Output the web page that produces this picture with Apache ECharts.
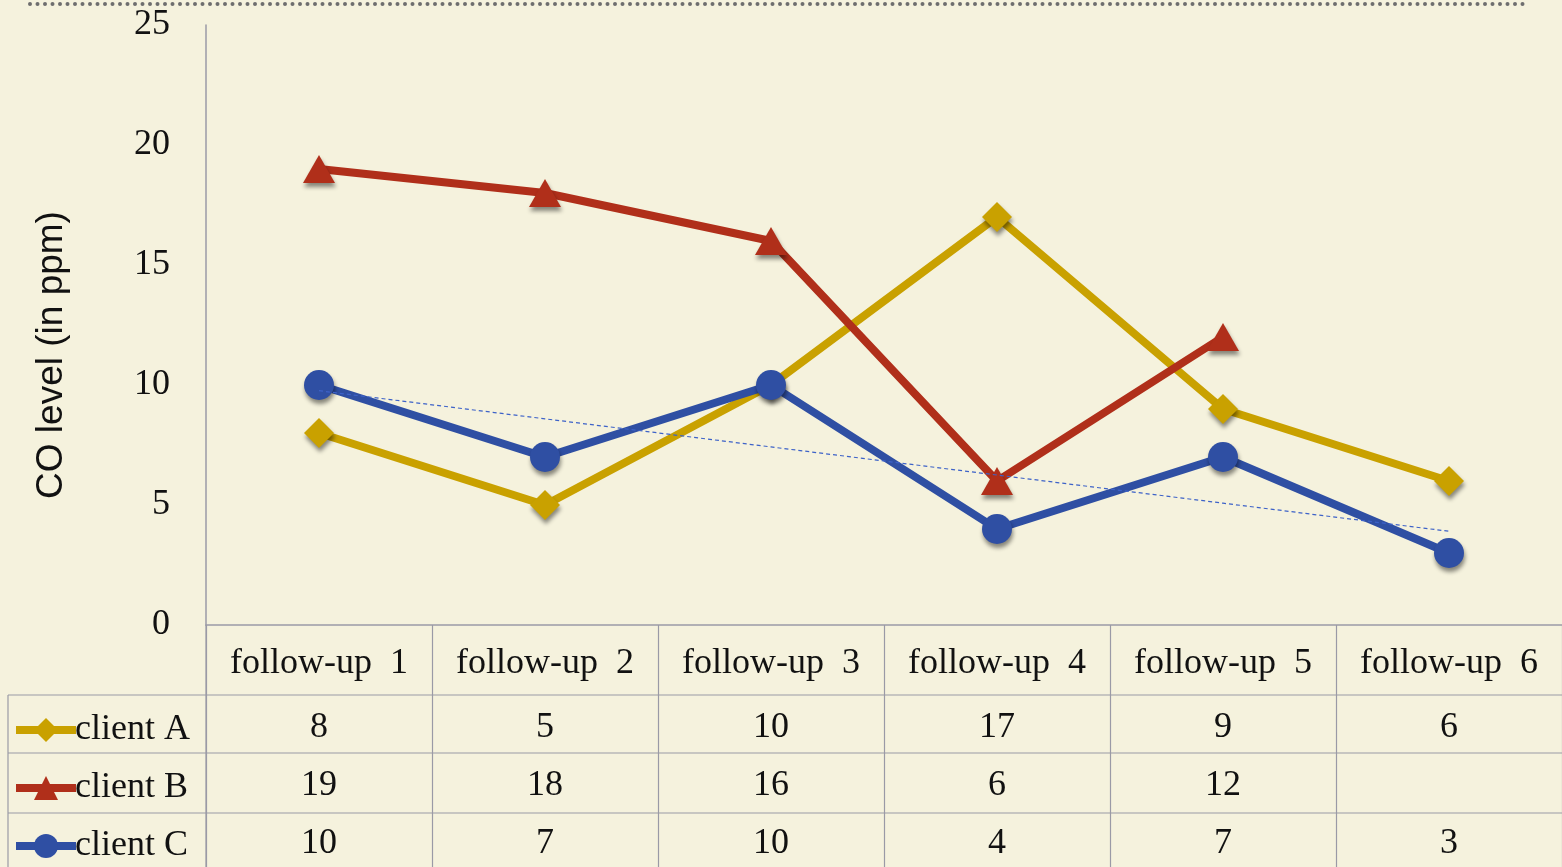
<!DOCTYPE html>
<html>
<head>
<meta charset="utf-8">
<script src="https://cdn.jsdelivr.net/npm/echarts@6/dist/echarts.min.js"></script>
<style>
  html, body { margin: 0; padding: 0; background: #f5f2dd; }
  #chart { width: 1562px; height: 867px; }
</style>
</head>
<body>
<div id="chart"></div>
<script>
// Follow-up visits (categories)
const categories = ['follow-up  1', 'follow-up  2', 'follow-up  3', 'follow-up  4', 'follow-up  5', 'follow-up  6'];
// CO readings in ppm per client
const clientA = [8, 5, 10, 17, 9, 6];
const clientB = [19, 18, 16, 6, 12, null];
const clientC = [10, 7, 10, 4, 7, 3];
const seriesNames = ['client A', 'client B', 'client C'];
const yTicks = [0, 5, 10, 15, 20, 25];

const colors = { A: '#c9a100', B: '#b02f1a', C: '#2f4fa3' };
const serif = '"Liberation Serif", "Times New Roman", serif';
const sans = '"Liberation Sans", Arial, sans-serif';

// Linear trend for client C (least-squares fit over visit index)
function linearTrend(values) {
  const pts = values.map((v, i) => [i, v]).filter(p => p[1] != null);
  const n = pts.length;
  const mx = pts.reduce((s, p) => s + p[0], 0) / n;
  const my = pts.reduce((s, p) => s + p[1], 0) / n;
  let sxy = 0, sxx = 0;
  pts.forEach(p => { sxy += (p[0] - mx) * (p[1] - my); sxx += (p[0] - mx) ** 2; });
  const slope = sxy / sxx;
  return values.map((_, i) => +(my + slope * (i - mx)).toFixed(3));
}
const trendC = linearTrend(clientC);

// Layout of plot and table
const W = 1562, H = 867;
const plotLeft = 206, plotTop = 25, axisY = 625;
const rowLines = [695, 753, 813];
const rowCenters = [664, 728, 786, 844];
const ruleColor = '#9a9aa6';
const tableFont = 36;

const fmt = v => (v == null ? '' : String(v));

const markerShadow = { shadowBlur: 4, shadowColor: 'rgba(0,0,0,0.45)', shadowOffsetX: 1, shadowOffsetY: 4 };

function tableAxis(values, center) {
  return {
    type: 'category', gridIndex: 0, position: 'bottom',
    data: values.map(fmt),
    offset: 0,
    axisLine: { show: false }, axisTick: { show: false },
    axisLabel: {
      interval: 0, margin: center - axisY, verticalAlign: 'middle',
      fontFamily: serif, fontSize: tableFont, color: '#111'
    }
  };
}

// one legend per table row, so each key sits in its own row
function rowLegend(name, center) {
  return {
    orient: 'horizontal', left: 8, top: center - 16,
    itemWidth: 60, itemHeight: 30, itemGap: 0, padding: [0, 0, 0, 4],
    data: [name],
    lineStyle: { width: 8 },
    textStyle: { fontFamily: serif, fontSize: tableFont, color: '#111', padding: [0, 0, 0, -6] }
  };
}

const chart = echarts.init(document.getElementById('chart'), null, { renderer: 'canvas' });

const option = {
  backgroundColor: '#f5f2dd',
  animation: false,
  grid: [
    { left: plotLeft, top: plotTop, right: 0, bottom: H - axisY },
    { left: plotLeft, top: axisY, right: 0, bottom: 0 }
  ],
  legend: seriesNames.map((n, i) => rowLegend(n, rowCenters[i + 1])),
  xAxis: [
    {
      type: 'category', gridIndex: 0, data: categories,
      axisLine: { show: true, lineStyle: { color: ruleColor, width: 1.5 } },
      axisTick: { show: false },
      axisLabel: {
        interval: 0, margin: rowCenters[0] - axisY, verticalAlign: 'middle',
        fontFamily: serif, fontSize: tableFont, color: '#111'
      }
    },
    tableAxis(clientA, rowCenters[1]),
    tableAxis(clientB, rowCenters[2]),
    tableAxis(clientC, rowCenters[3]),
    {
      type: 'category', gridIndex: 1, data: categories,
      axisLine: { show: false }, axisTick: { show: false }, axisLabel: { show: false },
      splitLine: { show: true, lineStyle: { color: ruleColor, width: 1.2 } }
    }
  ],
  yAxis: [
    {
      type: 'value', gridIndex: 0, min: 0, max: 25, interval: 5,
      name: 'CO level (in ppm)', nameLocation: 'middle', nameGap: 136, nameRotate: 90,
      nameTextStyle: { fontFamily: sans, fontSize: 37, color: '#111', padding: [0, 60, 0, 0] },
      axisLine: { show: true, lineStyle: { color: ruleColor, width: 1.5 } },
      axisTick: { show: false },
      splitLine: { show: false },
      axisLabel: {
        margin: 36, fontFamily: serif, fontSize: 36, color: '#111',
        formatter: v => (yTicks.includes(v) ? String(v) : '')
      }
    },
    {
      type: 'value', gridIndex: 1, min: 0, max: 1, show: false
    }
  ],
  series: [
    {
      name: 'client A', type: 'line', xAxisIndex: 0, yAxisIndex: 0, data: clientA,
      symbol: 'diamond', symbolSize: 30,
      lineStyle: { color: colors.A, width: 8 },
      itemStyle: Object.assign({ color: colors.A }, markerShadow), z: 3
    },
    {
      name: 'client B', type: 'line', xAxisIndex: 0, yAxisIndex: 0, data: clientB,
      symbol: 'triangle', symbolSize: [32, 28],
      lineStyle: { color: colors.B, width: 8 },
      itemStyle: Object.assign({ color: colors.B }, markerShadow), z: 4
    },
    {
      name: 'client C', type: 'line', xAxisIndex: 0, yAxisIndex: 0, data: clientC,
      symbol: 'circle', symbolSize: 30,
      lineStyle: { color: colors.C, width: 8 },
      itemStyle: Object.assign({ color: colors.C }, markerShadow), z: 5
    },
    {
      name: 'trend C', type: 'line', xAxisIndex: 0, yAxisIndex: 0, data: trendC,
      symbol: 'none', silent: true,
      lineStyle: { color: '#3d62c8', width: 1.2, type: [4, 3] }, z: 6
    }
  ],
  graphic: [
    // dotted rule along the top edge
    { type: 'line', shape: { x1: 30, y1: 4, x2: 1530, y2: 4 },
      style: { stroke: '#6e6e6e', lineWidth: 4, lineDash: [0, 7.5], lineCap: 'round' }, silent: true },
    // horizontal table rules
    ...rowLines.map(y => ({ type: 'line', shape: { x1: 8, y1: y, x2: W, y2: y },
      style: { stroke: ruleColor, lineWidth: 1.2 }, silent: true })),
    // left edge of the legend column
    { type: 'line', shape: { x1: 8, y1: rowLines[0], x2: 8, y2: H },
      style: { stroke: ruleColor, lineWidth: 1.2 }, silent: true },
    // left edge of the value columns
    { type: 'line', shape: { x1: plotLeft, y1: axisY, x2: plotLeft, y2: H },
      style: { stroke: ruleColor, lineWidth: 1.2 }, silent: true }
  ]
};

chart.setOption(option);
</script>
</body>
</html>
